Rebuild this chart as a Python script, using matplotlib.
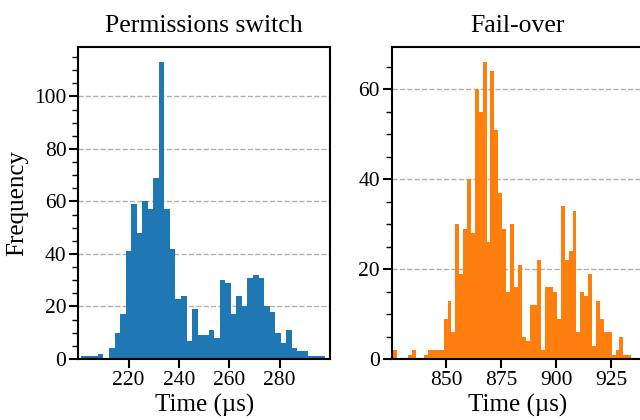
import numpy as np
import matplotlib
matplotlib.use("Agg")
import matplotlib.pyplot as plt
from matplotlib.ticker import MultipleLocator

# Histogram counts
perm_start = 201.2
perm_width = 2.2
perm_counts = [1, 1, 1, 2, 0, 4, 10, 17, 41, 59, 48, 60, 57, 69, 113,
               57, 42, 23, 24, 7, 19, 9, 9, 11, 8, 30, 29, 17, 24, 20,
               31, 32, 31, 20, 18, 10, 6, 11, 4, 3, 3, 1, 1, 1]

fail_start = 825.8
fail_width = 1.776
fail_counts = [2, 0, 0, 0, 1, 2, 0, 0, 1, 2, 2, 2, 2, 9, 13, 6,
               30, 19, 29, 40, 28, 60, 55, 66, 26, 64, 51, 37, 29, 15,
               30, 16, 21, 5, 4, 12, 12, 22, 2, 16, 16, 15, 9, 34, 22,
               24, 33, 6, 15, 14, 19, 3, 13, 9, 6, 6, 1, 2, 5, 1, 1]

perm_xticks = [220, 240, 260, 280]
fail_xticks = [850, 875, 900, 925]

plt.rcParams['font.family'] = ['Liberation Serif', 'DejaVu Serif']

fig = plt.figure(figsize=(6.4, 4.2), dpi=100)
ax1 = fig.add_axes([78.3 / 640, 61 / 420, 251.7 / 640, 311.5 / 420])
ax2 = fig.add_axes([391.7 / 640, 61 / 420, 251.7 / 640, 311.5 / 420])


def draw(ax, start, width, counts, color, title, xlim, xticks):
    counts = np.array(counts)
    edges = start + width * np.arange(len(counts) + 1)
    centers = (edges[:-1] + edges[1:]) / 2
    ax.hist(centers, bins=edges, weights=counts, color=color)
    ax.set_xlim(*xlim)
    ax.set_ylim(0, counts.max() * 1.05)
    ax.set_xticks(xticks)
    ax.yaxis.set_major_locator(MultipleLocator(20))
    ax.yaxis.set_minor_locator(MultipleLocator(5))
    ax.grid(axis='y', which='major', linestyle='--', color='#b0b0b0', linewidth=1.0)
    ax.set_axisbelow(True)
    for s in ax.spines.values():
        s.set_linewidth(1.5)
    ax.tick_params(axis='both', which='major', length=6.5, width=1.5, labelsize=15.5, pad=2)
    ax.tick_params(axis='y', which='minor', length=4, width=1.0)
    ax.set_title(title, fontsize=18.5, pad=11)
    ax.set_xlabel('Time (µs)', fontsize=18, labelpad=3)


draw(ax1, perm_start, perm_width, perm_counts, '#1f77b4', 'Permissions switch', (200, 300), perm_xticks)
draw(ax2, fail_start, fail_width, fail_counts, '#ff7f0e', 'Fail-over', (825.3, 939.7), fail_xticks)
ax1.set_ylabel('Frequency', fontsize=18, labelpad=4)

fig.savefig('out.png', dpi=100)
